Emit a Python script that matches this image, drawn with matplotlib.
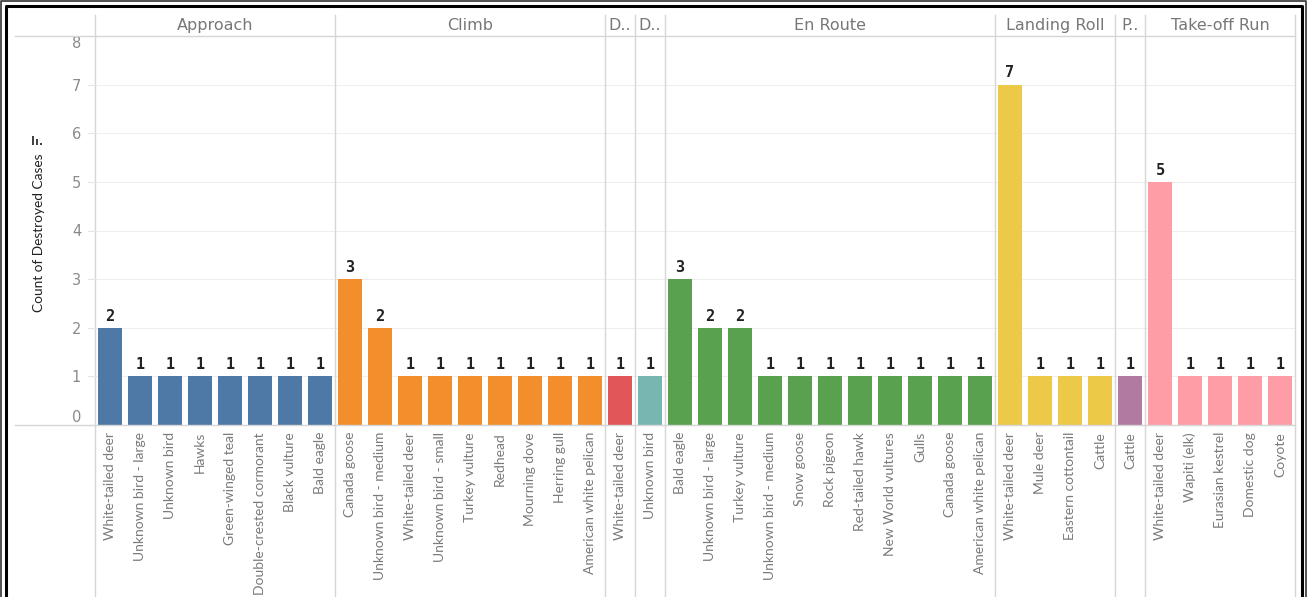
import matplotlib.pyplot as plt
from matplotlib.lines import Line2D
from matplotlib.patches import Rectangle

plt.rcParams['font.family'] = ['DejaVu Sans']

# Destroyed-aircraft strike counts by flight phase and species
phases = ['Approach', 'Climb', 'Departure', 'Descent', 'En Route',
          'Landing Roll', 'Parked', 'Take-off Run']

approach_species = ['White-tailed deer', 'Unknown bird - large', 'Unknown bird', 'Hawks',
                    'Green-winged teal', 'Double-crested cormorant', 'Black vulture', 'Bald eagle']
approach_counts = [2, 1, 1, 1, 1, 1, 1, 1]

climb_species = ['Canada goose', 'Unknown bird - medium', 'White-tailed deer',
                 'Unknown bird - small', 'Turkey vulture', 'Redhead', 'Mourning dove',
                 'Herring gull', 'American white pelican']
climb_counts = [3, 2, 1, 1, 1, 1, 1, 1, 1]

departure_species = ['White-tailed deer']
departure_counts = [1]

descent_species = ['Unknown bird']
descent_counts = [1]

enroute_species = ['Bald eagle', 'Unknown bird - large', 'Turkey vulture',
                   'Unknown bird - medium', 'Snow goose', 'Rock pigeon', 'Red-tailed hawk',
                   'New World vultures', 'Gulls', 'Canada goose', 'American white pelican']
enroute_counts = [3, 2, 2, 1, 1, 1, 1, 1, 1, 1, 1]

landing_species = ['White-tailed deer', 'Mule deer', 'Eastern cottontail', 'Cattle']
landing_counts = [7, 1, 1, 1]

parked_species = ['Cattle']
parked_counts = [1]

takeoff_species = ['White-tailed deer', 'Wapiti (elk)', 'Eurasian kestrel',
                   'Domestic dog', 'Coyote']
takeoff_counts = [5, 1, 1, 1, 1]

species = [approach_species, climb_species, departure_species, descent_species,
           enroute_species, landing_species, parked_species, takeoff_species]
counts = [approach_counts, climb_counts, departure_counts, descent_counts,
          enroute_counts, landing_counts, parked_counts, takeoff_counts]

colors = ['#4e79a7', '#f28e2b', '#e15759', '#76b7b2', '#59a14f', '#edc948', '#b07aa1', '#ff9da7']

W, H = 1307, 597
fig = plt.figure(figsize=(W / 100, H / 100), dpi=100)


def fx(px):
    return px / W


def fy(py):
    return 1 - py / H


narrow = ['Lato', 'DejaVu Sans']
line_col = '#d6d6d6'
top_px, zero_px, head_px = 36, 425, 15
left_px = 95
slot = 30

x0 = left_px
edges = [x0]
for i, ph in enumerate(phases):
    n = len(counts[i])
    w = n * slot
    ax = fig.add_axes([fx(x0), fy(zero_px), w / W, (zero_px - top_px) / H])
    ax.bar(range(n), counts[i], width=0.77, color=colors[i], zorder=2)
    for j, v in enumerate(counts[i]):
        ax.annotate(str(v), (j, v), xytext=(0, 3), textcoords='offset points',
                    ha='center', va='bottom', fontsize=11, fontweight='bold',
                    family='DejaVu Sans Mono', color='#222222')
    ax.set_xlim(-0.5, n - 0.5)
    ax.set_ylim(0, 8)
    ax.set_yticks(range(9))
    ax.yaxis.grid(True, color='#eeeeee', lw=0.8, zorder=0)
    ax.set_axisbelow(True)
    for sp in ax.spines.values():
        sp.set_visible(False)
    ax.set_xticks(range(n))
    ax.set_xticklabels(species[i], rotation=90, fontsize=10, color='#7a7a7a',
                       family=narrow, va='top')
    ax.tick_params(axis='x', length=0, pad=5)
    if i == 0:
        ax.tick_params(axis='y', length=0, pad=10, labelsize=10.5, labelcolor='#8a8a8a')
        labels = ax.get_yticklabels()
        labels[0].set_va('bottom')
        labels[-1].set_va('top')
        labels[-1].set_y(7.84)
    else:
        ax.tick_params(axis='y', length=0, labelleft=False)
    name = ph if n > 1 else ph[0] + '..'
    ax.text(0.5, 1 + (top_px - 25.5) / (zero_px - top_px), name, transform=ax.transAxes,
            ha='center', va='center', fontsize=11.5, color='#777777')
    x0 += w
    edges.append(x0)

# panel separators and header/baseline rules
for e in edges:
    fig.add_artist(Line2D([fx(e), fx(e)], [fy(head_px), 0], color=line_col, lw=1))
for yy in (top_px, zero_px):
    fig.add_artist(Line2D([fx(15), fx(edges[-1])], [fy(yy), fy(yy)], color=line_col, lw=1))
# short tick marks in the axis pane
for k in range(1, 8):
    yy = zero_px - k * (zero_px - top_px) / 8
    fig.add_artist(Line2D([fx(88), fx(left_px)], [fy(yy), fy(yy)], color='#e6e6e6', lw=0.8))

fig.text(fx(39), fy(233), 'Count of Destroyed Cases', rotation=90, ha='center',
         va='center', fontsize=9.8, color='#222222', family=narrow)
# sort indicator next to the axis title
for k, hgt in enumerate([9, 6, 2]):
    fig.add_artist(Rectangle((fx(32 + 4 * k), fy(145)), 2 / W, hgt / H,
                             color='#444444', lw=0))

# outer frame
fig.add_artist(Line2D([fx(6), fx(6), fx(1302), fx(1302)], [0, fy(6), fy(6), 0],
                      color='black', lw=2.2))
fig.add_artist(Line2D([fx(1), fx(1), fx(1306), fx(1306)], [0, fy(1), fy(1), 0],
                      color='#333333', lw=1.2))

fig.savefig('out.png', dpi=100)
